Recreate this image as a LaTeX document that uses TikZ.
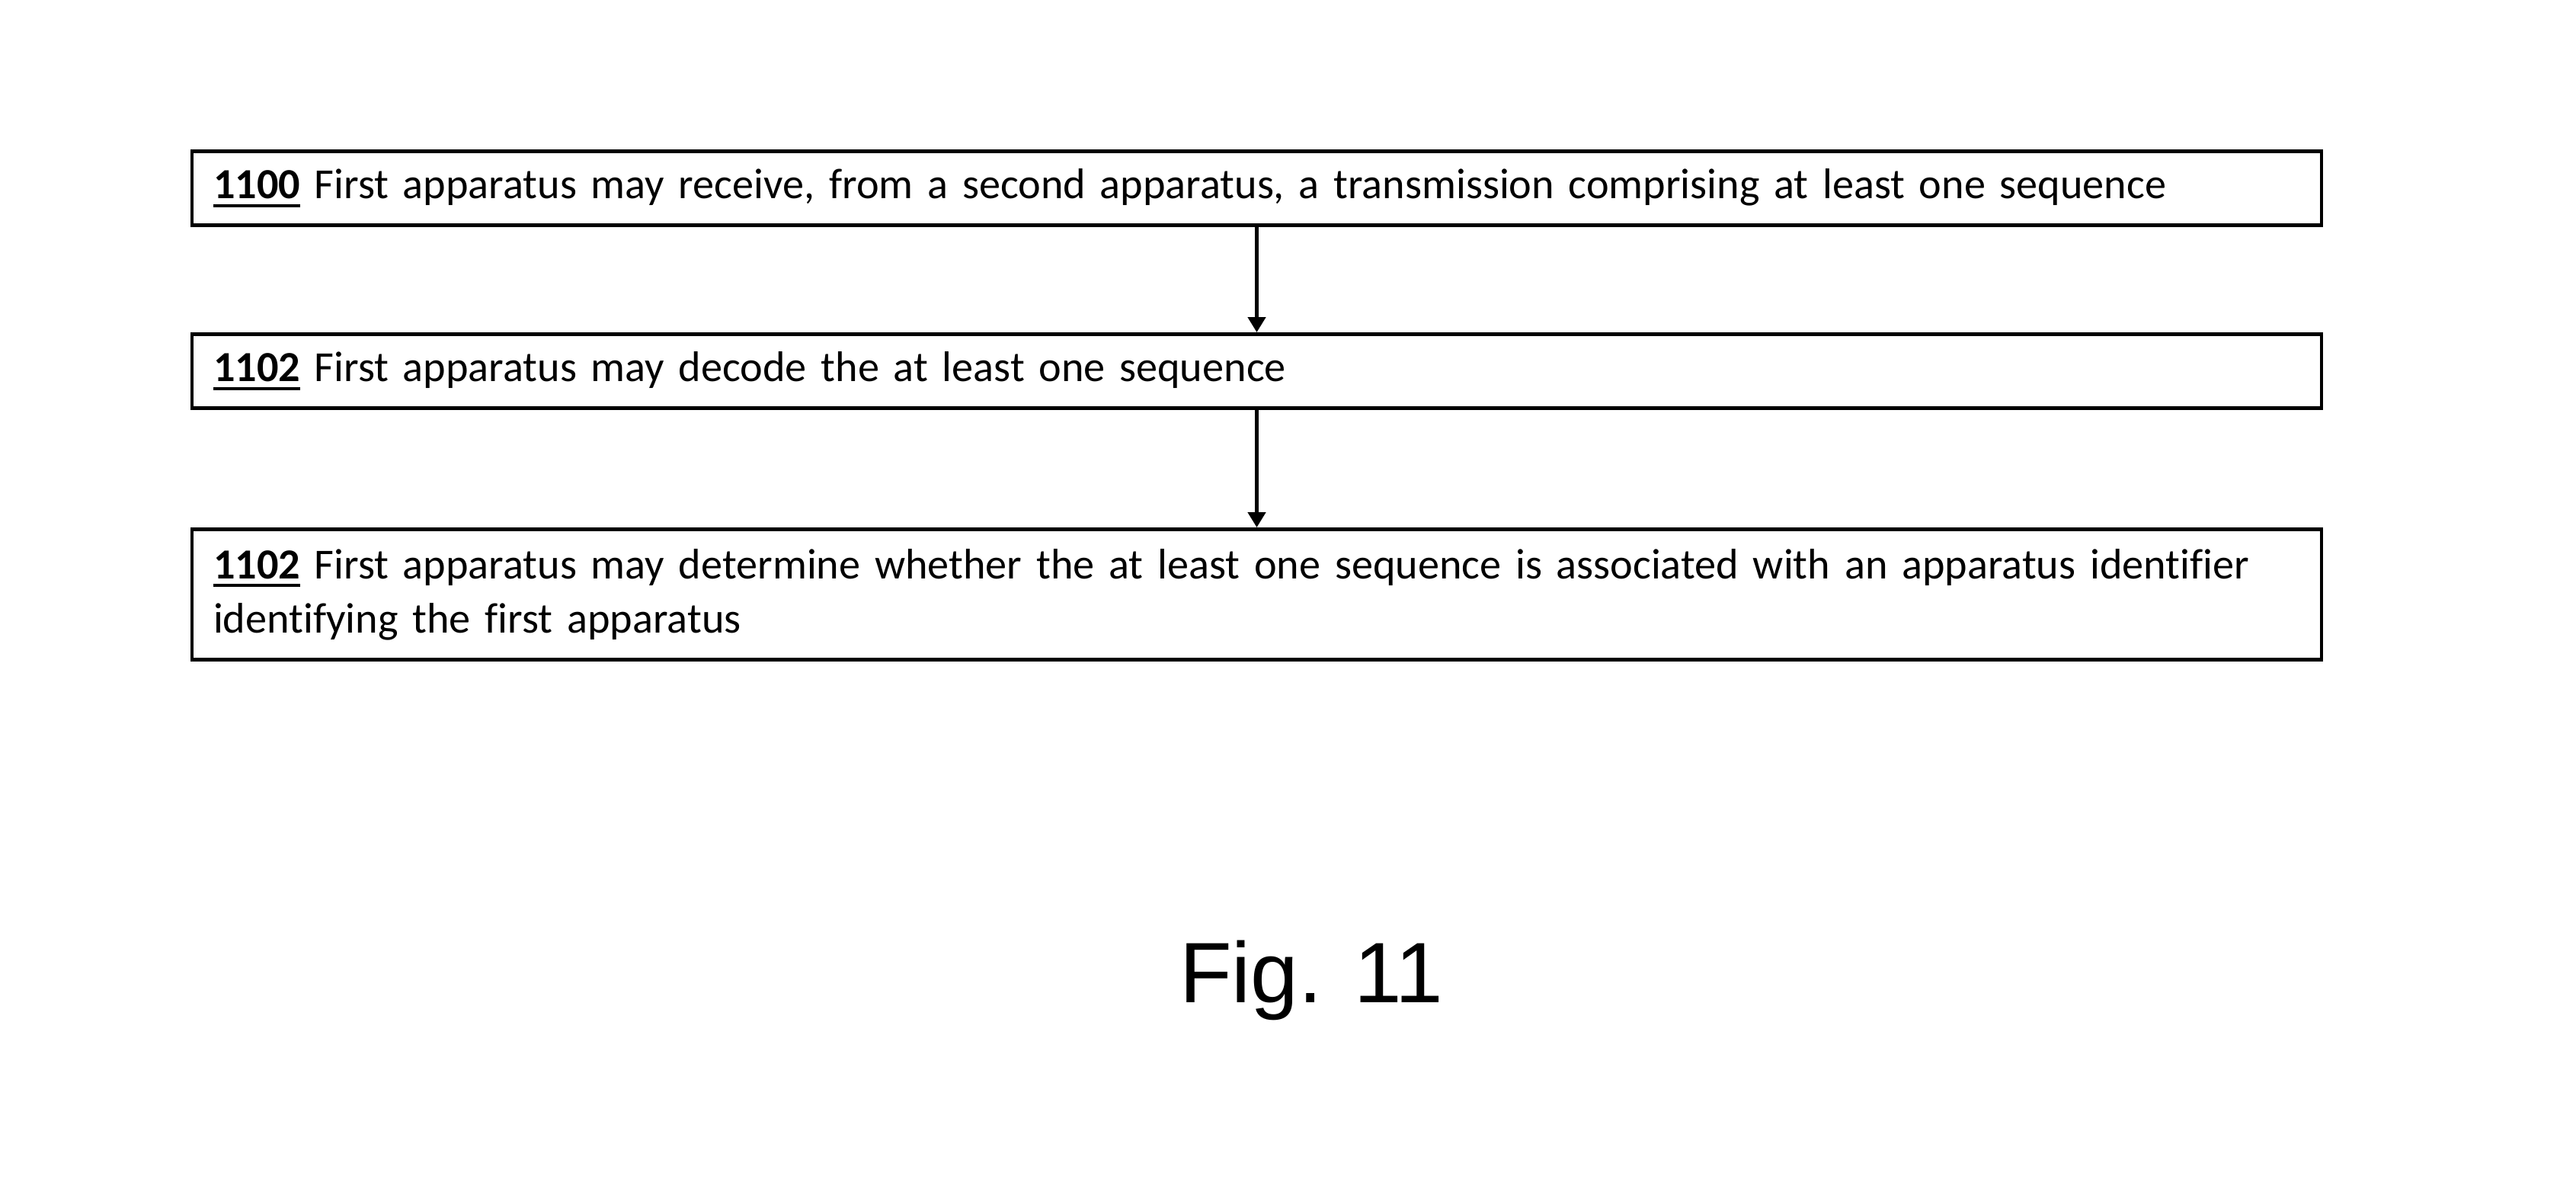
\documentclass[tikz,border=0pt]{standalone}
\usepackage{fontspec}
\setmainfont[Ligatures=NoCommon]{Carlito}
\newfontfamily\figfont{Liberation Sans}
\usetikzlibrary{arrows.meta}
\newcommand\numul[1]{\setbox0\hbox{\textbf{#1}}\rlap{\rule[-3.2pt]{\wd0}{1.2pt}}\box0\relax}
\begin{document}
\begin{tikzpicture}[
  stepbox/.style={draw=black, line width=1.3pt, rectangle, minimum width=27.95cm,
    text width=27.39cm, inner xsep=0.28cm, inner ysep=0pt, align=left,
    font=\fontsize{16}{20.2}\selectfont, anchor=north},
  flow/.style={line width=1.3pt, -{Triangle[length=0.2cm,width=0.23cm]}}
]
\useasboundingbox (0,0) rectangle (33.81,-15.63);
\node[stepbox, minimum height=0.97cm] (s1) at (16.495,-1.96)
  {\numul{1100} First apparatus may receive, from a second apparatus, a transmission comprising at least one sequence};
\node[stepbox, minimum height=0.97cm] (s2) at (16.495,-4.36)
  {\numul{1102} First apparatus may decode the at least one sequence};
\node[stepbox, minimum height=1.71cm] (s3) at (16.495,-6.92)
  {\numul{1102} First apparatus may determine whether the at least one sequence is associated with an apparatus identifier\\ identifying the first apparatus};
\draw[flow] (s1.south) -- (s2.north);
\draw[flow] (s2.south) -- (s3.north);
\node[font=\figfont\fontsize{32}{36}\selectfont, anchor=base] (fig) at (17.21,-13.15) {Fig. 11};
\end{tikzpicture}
\end{document}
